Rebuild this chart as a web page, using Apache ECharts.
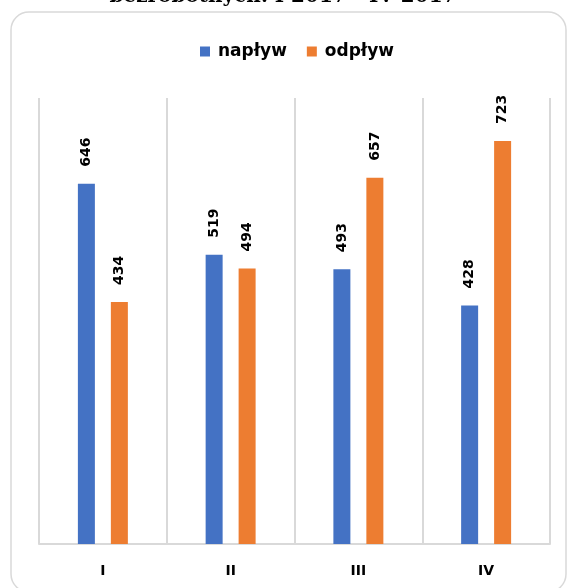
<!DOCTYPE html>
<html>
<head>
<meta charset="utf-8">
<script src="https://cdn.jsdelivr.net/npm/echarts@6/dist/echarts.min.js"></script>
<style>html,body{margin:0;padding:0;background:#fff;}#c{width:569px;height:588px;}</style>
</head>
<body>
<div id="c"></div>
<script>
const categories = ['I', 'II', 'III', 'IV'];
const inflow = [646, 519, 493, 428];
const outflow = [434, 494, 657, 723];
const seriesNames = ['napływ', 'odpływ'];
const titleText = 'bezrobotnych. I 2017 - IV 2017';

const FONT = '"DejaVu Sans", Verdana, sans-serif';
const chart = echarts.init(document.getElementById('c'), null, {renderer: 'canvas'});
const labelCfg = {
  show: true, position: 'top', rotate: 90, align: 'left', verticalAlign: 'middle',
  distance: 17, color: '#000', fontFamily: FONT,
  fontWeight: 'bold', fontSize: 14
};
chart.setOption({
  backgroundColor: '#fff',
  animation: false,
  graphic: [
    {type: 'rect', shape: {x: 11, y: 12, width: 555, height: 580, r: 18},
     style: {fill: '#fff', stroke: '#d9d9d9', lineWidth: 1.5}, z: -10},
    {type: 'text', x: 283, y: 7,
     style: {text: titleText, fill: '#000', font: 'bold 20px "DejaVu Serif", serif',
             textAlign: 'center', textVerticalAlign: 'bottom'}}
  ],
  legend: {
    top: 38, left: 195, itemWidth: 10, itemHeight: 10, itemGap: 20,
    icon: 'rect',
    textStyle: {fontFamily: FONT, fontWeight: 'bold', fontSize: 17, color: '#000',
                padding: [0, 0, 0, 3]},
    data: seriesNames
  },
  grid: {left: 39, right: 19, top: 98, bottom: 44},
  xAxis: {
    type: 'category', data: categories,
    axisLine: {lineStyle: {color: '#d9d9d9', width: 2}},
    axisTick: {show: false},
    splitLine: {show: true, interval: 0, lineStyle: {color: '#d9d9d9', width: 2}},
    axisLabel: {margin: 20, color: '#000', fontWeight: 'bold', fontSize: 14,
                fontFamily: FONT}
  },
  yAxis: {type: 'value', min: 0, max: 800, show: false, splitLine: {show: false}},
  series: [
    {name: seriesNames[0], type: 'bar', data: inflow, barWidth: 17, barGap: '94%',
     itemStyle: {color: '#4472c4'}, label: labelCfg},
    {name: seriesNames[1], type: 'bar', data: outflow, barWidth: 17,
     itemStyle: {color: '#ed7d31'}, label: labelCfg}
  ]
});
</script>
</body>
</html>
